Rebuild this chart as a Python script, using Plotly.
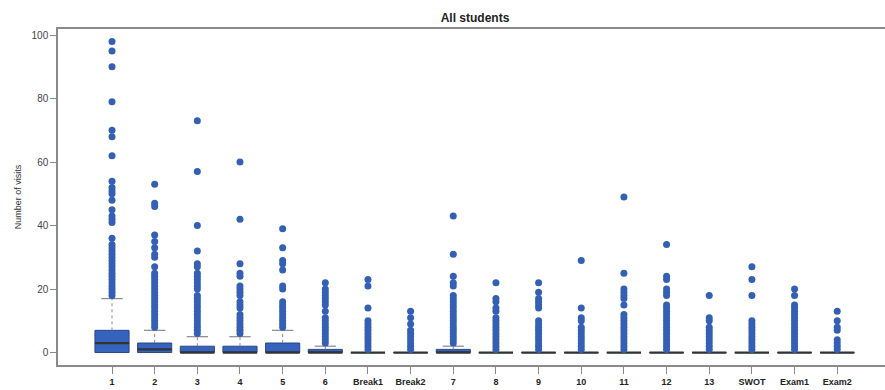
import plotly.graph_objects as go

categories = ["1", "2", "3", "4", "5", "6", "Break1", "Break2", "7", "8", "9",
              "10", "11", "12", "13", "SWOT", "Exam1", "Exam2"]

q1 = [0] * 18
median = [3, 1, 0, 0, 0, 0, 0, 0, 0, 0, 0, 0, 0, 0, 0, 0, 0, 0]
q3 = [7, 3, 2, 2, 3, 1, 0, 0, 1, 0, 0, 0, 0, 0, 0, 0, 0, 0]
whisker_hi = [17, 7, 5, 5, 7, 2, 0, 0, 2, 0, 0, 0, 0, 0, 0, 0, 0, 0]

outliers = [
    [98, 95, 90, 79, 70, 68, 62, 54, 52, 51, 50, 48, 45, 43, 42, 41, 36, 34, 33, 32,
     31, 30, 29, 28, 27, 26, 25, 24, 23, 22, 21, 20, 19, 18],
    [53, 47, 46, 37, 35, 33, 31, 30, 27, 25, 24, 23, 22, 21, 20, 19, 18, 17, 16, 15,
     14, 13, 12, 11, 10, 9, 8],
    [73, 57, 40, 32, 28, 27, 25, 24, 23, 22, 21, 20, 18, 17, 16, 15, 14, 13, 12, 11,
     10, 9, 8, 7, 6],
    [60, 42, 28, 25, 24, 21, 20, 19, 18, 16, 15, 14, 12, 11, 10, 9, 8, 7, 6],
    [39, 33, 29, 28, 26, 21, 20, 16, 15, 14, 13, 12, 11, 10, 9, 8],
    [22, 20, 19, 18, 17, 16, 15, 13, 11, 10, 9, 8, 7, 6, 5, 4, 3],
    [23, 21, 14, 10, 9, 8, 7, 6, 5, 4, 3, 2, 1],
    [13, 11, 9, 7, 6, 5, 4, 3, 2, 1],
    [43, 31, 24, 22, 21, 18, 17, 16, 15, 14, 13, 12, 11, 10, 9, 8, 7, 6, 5, 4, 3],
    [22, 17, 16, 14, 13, 11, 10, 9, 8, 7, 6, 5, 4, 3, 2, 1],
    [22, 19, 17, 16, 15, 14, 10, 9, 8, 7, 6, 5, 4, 3, 2, 1],
    [29, 14, 11, 10, 8, 7, 6, 5, 4, 3, 2, 1],
    [49, 25, 20, 19, 18, 17, 15, 12, 11, 10, 9, 8, 7, 6, 5, 4, 3, 2, 1],
    [34, 24, 23, 20, 19, 18, 15, 14, 13, 12, 11, 10, 9, 8, 7, 6, 5, 4, 3, 2, 1],
    [18, 11, 10, 8, 7, 6, 5, 4, 3, 2, 1],
    [27, 23, 18, 10, 9, 8, 7, 6, 5, 4, 3, 2, 1],
    [20, 18, 15, 14, 13, 12, 11, 10, 9, 8, 7, 6, 5, 4, 3, 2, 1],
    [13, 10, 8, 7, 4, 3, 2, 1],
]

y_ticks = [0, 20, 40, 60, 80, 100]

BLUE = "#3563BD"
DOT = "#3460B4"
GRAY = "#8a8a8a"
FONT = "Liberation Sans, Arial, sans-serif"

pos = list(range(len(categories)))
BOX_W = 0.8
CAP_W = 0.25

fig = go.Figure()

# whiskers (dashed) and caps
wx, wy, cx, cy = [], [], [], []
for i, (top, hi) in enumerate(zip(q3, whisker_hi)):
    if hi > top:
        wx += [i, i, None]
        wy += [top, hi, None]
        cx += [i - CAP_W, i + CAP_W, None]
        cy += [hi, hi, None]
fig.add_trace(go.Scatter(x=wx, y=wy, mode="lines",
                         line=dict(color=GRAY, width=1, dash="3px,3px"),
                         hoverinfo="skip", showlegend=False))
fig.add_trace(go.Scatter(x=cx, y=cy, mode="lines",
                         line=dict(color=GRAY, width=1.2),
                         hoverinfo="skip", showlegend=False))

# boxes
fig.add_trace(go.Box(x=pos, q1=q1, median=median, q3=q3,
                     lowerfence=q1, upperfence=q3,
                     width=BOX_W, fillcolor=BLUE,
                     line=dict(color="#2a4680", width=1),
                     boxpoints=False, showlegend=False, whiskerwidth=0))

# medians (thick)
mx, my = [], []
for i, m in enumerate(median):
    mx += [i - BOX_W / 2, i + BOX_W / 2, None]
    my += [m, m, None]
fig.add_trace(go.Scatter(x=mx, y=my, mode="lines",
                         line=dict(color="#333333", width=2.2),
                         hoverinfo="skip", showlegend=False))

# outliers
ox, oy = [], []
for i, vals in enumerate(outliers):
    ox += [i] * len(vals)
    oy += vals
fig.add_trace(go.Scatter(x=ox, y=oy, mode="markers",
                         marker=dict(color=DOT, size=7, line=dict(width=0)),
                         showlegend=False))

fig.update_layout(
    width=885, height=390,
    margin=dict(l=58, r=0, t=29, b=25),
    paper_bgcolor="white", plot_bgcolor="white",
    font=dict(family=FONT, color="#333"),
    title=dict(text="<b>All students</b>", x=475 / 885, xref="container",
               xanchor="center", y=1 - 18 / 390, yref="container",
               yanchor="middle", font=dict(size=12, color="#222")),
)
fig.update_xaxes(range=[-1.266, 18.12], tickvals=pos, ticktext=categories,
                 tickfont=dict(size=9, color="#222", family=FONT, weight="bold"),
                 ticks="outside", ticklen=7, tickcolor=GRAY, tickwidth=1,
                 showline=True, linecolor=GRAY, linewidth=1.5, mirror=True,
                 showgrid=False, zeroline=False)
fig.update_yaxes(range=[-3.92, 101.92], tickvals=y_ticks,
                 tickfont=dict(size=10, color="#444"),
                 ticks="outside", ticklen=6, tickcolor=GRAY, tickwidth=1,
                 showline=True, linecolor=GRAY, linewidth=1.5,
                 showgrid=False, zeroline=False,
                 title=dict(text="Number of visits", font=dict(size=9, color="#333"),
                            standoff=8))

fig.write_html("out.html", config={"displayModeBar": False},
               post_script="document.body.style.margin='0';document.body.style.overflow='hidden';")
